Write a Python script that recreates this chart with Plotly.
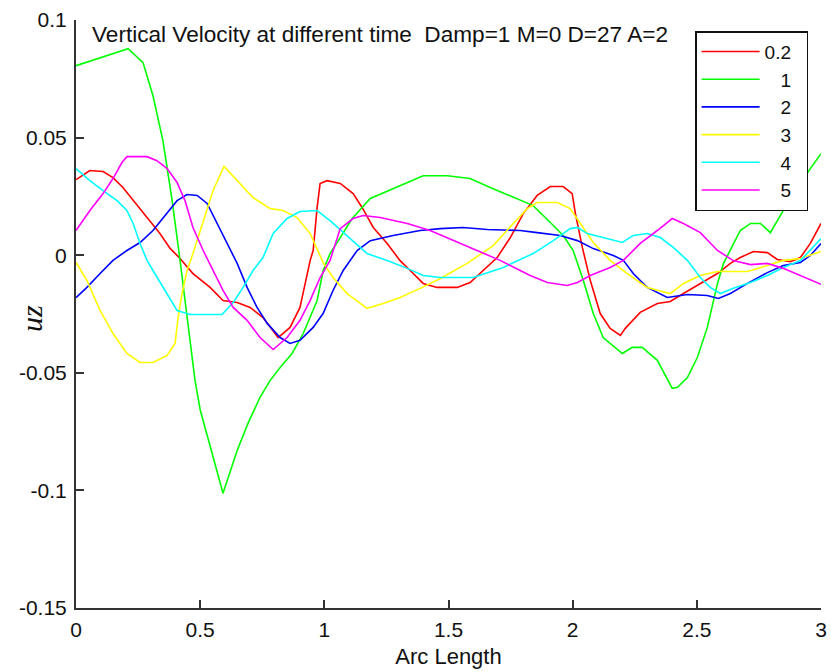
import plotly.graph_objects as go

# ---- data (Arc Length, uz) ----
x_t02 = [0, 0.056, 0.109, 0.149, 0.189, 0.230, 0.286, 0.338, 0.379, 0.419, 0.471, 0.540, 0.592, 0.649,
         0.701, 0.753, 0.794, 0.814, 0.862, 0.902, 0.923, 0.943, 0.955, 0.971, 0.983, 1.011, 1.064, 1.116,
         1.152, 1.197, 1.253, 1.305, 1.346, 1.398, 1.454, 1.535, 1.587, 1.640, 1.696, 1.749, 1.801, 1.857,
         1.910, 1.962, 1.998, 2.011, 2.039, 2.071, 2.111, 2.151, 2.192, 2.212, 2.272, 2.341, 2.393, 2.446,
         2.514, 2.583, 2.635, 2.675, 2.728, 2.784, 2.824, 2.877, 2.917, 2.957, 3.0]
y_t02 = [0.0321, 0.0360, 0.0356, 0.0330, 0.0288, 0.0232, 0.0160, 0.0092, 0.0029, -0.0014, -0.0078, -0.0137,
         -0.0193, -0.0201, -0.0222, -0.0265, -0.0320, -0.0350, -0.0307, -0.0222, -0.0120, -0.0022, 0.0020,
         0.0203, 0.0305, 0.0317, 0.0305, 0.0262, 0.0203, 0.0118, 0.0050, -0.0023, -0.0065, -0.0120, -0.0137,
         -0.0137, -0.0116, -0.0065, -0.0010, 0.0075, 0.0177, 0.0254, 0.0292, 0.0292, 0.0262, 0.0177, 0.0033,
         -0.0108, -0.0248, -0.0311, -0.0341, -0.0311, -0.0243, -0.0205, -0.0197, -0.0163, -0.0120, -0.0078,
         -0.0035, -0.0010, 0.0016, 0.0011, -0.0018, -0.0027, -0.0010, 0.0050, 0.0135]

x_t1 = [0, 0.21, 0.27, 0.31, 0.35, 0.387, 0.419, 0.439, 0.479, 0.50, 0.552, 0.592, 0.649, 0.693, 0.741,
        0.782, 0.822, 0.870, 0.915, 0.971, 0.995, 1.023, 1.064, 1.112, 1.185, 1.277, 1.398, 1.495, 1.587,
        1.668, 1.789, 1.841, 1.910, 1.962, 2.002, 2.043, 2.083, 2.123, 2.200, 2.240, 2.280, 2.341, 2.401,
        2.422, 2.462, 2.502, 2.542, 2.583, 2.607, 2.675, 2.716, 2.756, 2.796, 2.865, 2.957, 3.0]
y_t1 = [0.0806, 0.0878, 0.0819, 0.0678, 0.0487, 0.0233, -0.0022, -0.0190, -0.0530, -0.0657, -0.0857,
        -0.1012, -0.0830, -0.0714, -0.0604, -0.0532, -0.0477, -0.0418, -0.0333, -0.0193, -0.0066, 0.0007,
        0.0075, 0.0156, 0.0241, 0.0283, 0.0338, 0.0338, 0.0326, 0.0288, 0.0233, 0.0211, 0.0139, 0.0084,
        0.0020, -0.0108, -0.0248, -0.0350, -0.0418, -0.0392, -0.0392, -0.0447, -0.0566, -0.0562, -0.0520,
        -0.0435, -0.0308, -0.0121, -0.0036, 0.0105, 0.0135, 0.0135, 0.0096, 0.0220, 0.0368, 0.0432]

x_t2 = [0, 0.044, 0.097, 0.149, 0.205, 0.258, 0.310, 0.367, 0.407, 0.447, 0.488, 0.528, 0.568, 0.608,
        0.649, 0.689, 0.729, 0.770, 0.822, 0.862, 0.902, 0.955, 0.995, 1.035, 1.076, 1.132, 1.185, 1.277,
        1.386, 1.467, 1.559, 1.656, 1.789, 1.857, 1.950, 2.019, 2.083, 2.164, 2.204, 2.244, 2.300, 2.381,
        2.462, 2.542, 2.587, 2.635, 2.704, 2.784, 2.848, 2.917, 2.957, 3.0]
y_t2 = [-0.0180, -0.0137, -0.0078, -0.0022, 0.0020, 0.0054, 0.0105, 0.0177, 0.0232, 0.0258, 0.0254, 0.0220,
        0.0135, 0.0050, -0.0035, -0.0137, -0.0222, -0.0290, -0.0350, -0.0375, -0.0362, -0.0307, -0.0248,
        -0.0150, -0.0065, 0.0020, 0.0062, 0.0084, 0.0105, 0.0113, 0.0118, 0.0109, 0.0105, 0.0096, 0.0084,
        0.0062, 0.0028, -0.0001, -0.0022, -0.0078, -0.0137, -0.0180, -0.0167, -0.0171, -0.0184, -0.0163,
        -0.0120, -0.0074, -0.0044, -0.0031, -0.0001, 0.0050]

x_t3 = [0, 0.044, 0.097, 0.149, 0.205, 0.258, 0.310, 0.367, 0.399, 0.411, 0.427, 0.447, 0.471, 0.512,
        0.552, 0.596, 0.649, 0.713, 0.782, 0.834, 0.890, 0.943, 0.995, 1.035, 1.092, 1.172, 1.237, 1.305,
        1.386, 1.467, 1.575, 1.680, 1.761, 1.817, 1.857, 1.938, 1.990, 2.031, 2.083, 2.151, 2.220, 2.300,
        2.393, 2.446, 2.514, 2.583, 2.704, 2.784, 2.848, 2.917, 3.0]
y_t3 = [-0.0031, -0.0107, -0.0235, -0.0333, -0.0418, -0.0456, -0.0456, -0.0426, -0.0375, -0.0265, -0.0163,
        -0.0065, 0.0007, 0.0147, 0.0275, 0.0377, 0.0317, 0.0245, 0.0198, 0.0190, 0.0160, 0.0092, -0.0031,
        -0.0095, -0.0163, -0.0226, -0.0205, -0.0180, -0.0141, -0.0099, -0.0035, 0.0041, 0.0135, 0.0198,
        0.0224, 0.0224, 0.0198, 0.0135, 0.0054, -0.0022, -0.0078, -0.0137, -0.0163, -0.0120, -0.0086,
        -0.0069, -0.0069, -0.0044, -0.0022, -0.0014, 0.0016]

x_t4 = [0, 0.056, 0.109, 0.165, 0.205, 0.230, 0.258, 0.286, 0.310, 0.351, 0.379, 0.407, 0.459, 0.540,
        0.588, 0.633, 0.673, 0.713, 0.753, 0.794, 0.850, 0.902, 0.971, 1.023, 1.116, 1.172, 1.253, 1.334,
        1.398, 1.467, 1.600, 1.720, 1.841, 1.922, 1.990, 2.019, 2.059, 2.139, 2.200, 2.244, 2.300, 2.353,
        2.405, 2.462, 2.514, 2.554, 2.595, 2.647, 2.716, 2.784, 2.848, 2.917, 3.0]
y_t4 = [0.0368, 0.0317, 0.0275, 0.0232, 0.0190, 0.0135, 0.0050, -0.0022, -0.0065, -0.0137, -0.0192,
        -0.0235, -0.0252, -0.0252, -0.0252, -0.0201, -0.0137, -0.0065, -0.0010, 0.0092, 0.0156, 0.0186,
        0.0190, 0.0147, 0.0062, 0.0007, -0.0023, -0.0056, -0.0086, -0.0095, -0.0095, -0.0052, 0.0007,
        0.0062, 0.0113, 0.0118, 0.0092, 0.0071, 0.0054, 0.0084, 0.0092, 0.0075, 0.0033, -0.0022, -0.0095,
        -0.0137, -0.0163, -0.0141, -0.0116, -0.0086, -0.0052, -0.0023, 0.0071]

x_t5 = [0, 0.056, 0.109, 0.149, 0.185, 0.205, 0.286, 0.326, 0.367, 0.407, 0.439, 0.471, 0.512, 0.552,
        0.592, 0.633, 0.689, 0.741, 0.794, 0.850, 0.902, 0.943, 0.983, 1.023, 1.064, 1.116, 1.156, 1.225,
        1.334, 1.426, 1.519, 1.616, 1.708, 1.829, 1.898, 1.978, 2.019, 2.071, 2.151, 2.204, 2.272, 2.341,
        2.401, 2.446, 2.514, 2.583, 2.647, 2.716, 2.784, 2.848, 2.917, 3.0]
y_t5 = [0.0105, 0.0190, 0.0262, 0.0326, 0.0394, 0.0419, 0.0419, 0.0402, 0.0368, 0.0309, 0.0232, 0.0118,
        0.0020, -0.0065, -0.0150, -0.0222, -0.0277, -0.0350, -0.0401, -0.0350, -0.0277, -0.0192, -0.0095,
        -0.0022, 0.0113, 0.0156, 0.0169, 0.0160, 0.0135, 0.0105, 0.0062, 0.0020, -0.0022, -0.0086, -0.0116,
        -0.0129, -0.0116, -0.0086, -0.0052, -0.0022, 0.0050, 0.0105, 0.0156, 0.0135, 0.0096, 0.0020,
        -0.0023, -0.0040, -0.0035, -0.0056, -0.0086, -0.0124]

series_names = ["0.2", "1", "2", "3", "4", "5"]
series_colors = ["#FF0000", "#00FF00", "#0000FF", "#FFFF00", "#00FFFF", "#FF00FF"]
series_x = [x_t02, x_t1, x_t2, x_t3, x_t4, x_t5]
series_y = [y_t02, y_t1, y_t2, y_t3, y_t4, y_t5]

x_tickvals = [0, 0.5, 1, 1.5, 2, 2.5, 3]
x_ticktext = ["0", "0.5", "1", "1.5", "2", "2.5", "3"]
y_tickvals = [0.1, 0.05, 0, -0.05, -0.1, -0.15]
y_ticktext = ["0.1", "0.05", "0", "-0.05", "-0.1", "-0.15"]

title_text = "Vertical Velocity at different time  Damp=1 M=0 D=27 A=2"

FONT = "Liberation Sans, Arial, sans-serif"
AXC = "#333333"

fig = go.Figure()
for name, col, xs, ys in zip(series_names, series_colors, series_x, series_y):
    # right-align legend labels (figure/punctuation spaces) and pad the box on the right
    pad = "" if "." in name else "\u2007\u2008"
    fig.add_trace(go.Scatter(x=xs, y=ys, mode="lines", name=pad + name + "\u2007",
                             line=dict(color=col, width=1.6)))

fig.update_layout(
    width=831, height=672,
    margin=dict(l=76, r=10, t=20, b=64, autoexpand=False),
    paper_bgcolor="white", plot_bgcolor="white",
    font=dict(family=FONT, size=21, color="#111111"),
    showlegend=True,
    legend=dict(x=0.831, y=0.981, xanchor="left", yanchor="top",
                bordercolor="#111111", borderwidth=1.5, bgcolor="white",
                font=dict(family=FONT, size=19, color="#111111"),
                tracegroupgap=0, itemwidth=58),
    annotations=[
        dict(text=title_text, xref="paper", yref="paper", x=0, y=1,
             xanchor="left", yanchor="middle", xshift=14, yshift=-14,
             showarrow=False, font=dict(family=FONT, size=22.6, color="#111111")),
        dict(text="<i>uz</i>", xref="paper", yref="paper", x=0, y=0.5,
             xanchor="center", yanchor="middle", xshift=-45, yshift=-5,
             textangle=-90, showarrow=False,
             font=dict(family="Liberation Serif, Times New Roman, serif", size=30, color="#111111")),
    ],
)
fig.update_xaxes(range=[0, 3], tickvals=x_tickvals, ticktext=x_ticktext, automargin=False,
                 ticklabeloverflow="allow", ticklabelstandoff=2,
                 showgrid=False, zeroline=False, showline=True, linecolor=AXC, linewidth=2,
                 ticks="inside", ticklen=8, tickwidth=1.5, tickcolor=AXC,
                 title=dict(text="Arc Length", standoff=8, font=dict(family=FONT, size=22)))
fig.update_yaxes(range=[-0.15, 0.1], tickvals=y_tickvals, ticktext=y_ticktext, automargin=False,
                 ticklabeloverflow="allow", ticklabelstandoff=3,
                 showgrid=False, zeroline=False, showline=True, linecolor=AXC, linewidth=2,
                 ticks="inside", ticklen=8, tickwidth=1.5, tickcolor=AXC)

# remove the default 8px page margin so the 831x672 figure fills the window exactly
fig.write_html("out.html", config={"displayModeBar": False},
               post_script="document.body.style.margin='0';document.body.style.overflow='hidden';")
